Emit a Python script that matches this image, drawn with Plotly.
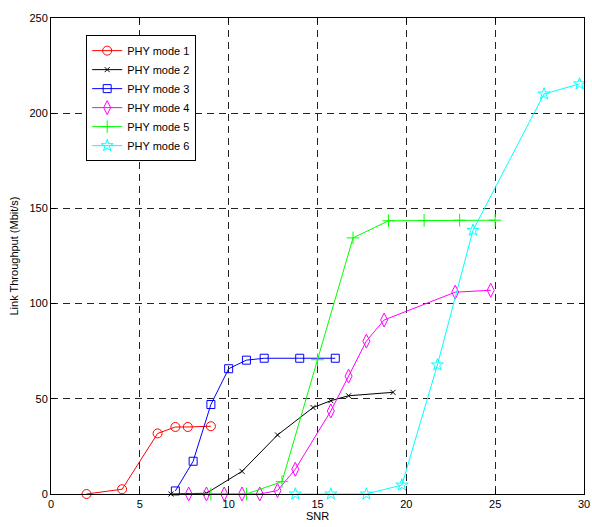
import plotly.graph_objects as go

# ---- data ----
snr_m1 = [2, 4, 6, 7, 7.7, 9]
thr_m1 = [0, 2.5, 31.8, 35.2, 35.2, 35.6]

snr_m2 = [6.75, 8.75, 10.75, 12.75, 14.75, 15.75, 16.75, 19.25]
thr_m2 = [0, 0.4, 11.9, 31.0, 45.4, 49.0, 51.6, 53.4]

snr_m3 = [7, 8, 9, 10, 11, 12, 14, 16]
thr_m3 = [1.6, 17.2, 47.0, 65.8, 70.3, 71.3, 71.3, 71.3]

snr_m4 = [7.75, 8.75, 9.75, 10.75, 11.75, 12.75, 13.75, 15.75, 16.75, 17.75, 18.75, 22.75, 24.75]
thr_m4 = [0, 0, 0, 0, 0, 1.8, 13.0, 43.6, 61.9, 80.3, 91.4, 106.0, 107.0]

snr_m5 = [9, 11, 13, 15, 17, 19, 21, 23, 25]
thr_m5 = [0, 0, 6.5, 70.5, 134.5, 143.5, 143.7, 143.8, 143.8]

snr_m6 = [13.75, 15.75, 17.75, 19.75, 21.75, 23.75, 27.75, 29.75]
thr_m6 = [0, 0, 0, 4.7, 67.8, 138.5, 210.1, 215.4]

series_names = ["PHY mode 1", "PHY mode 2", "PHY mode 3", "PHY mode 4", "PHY mode 5", "PHY mode 6"]
x_ticks = [0, 5, 10, 15, 20, 25, 30]
y_ticks = [0, 50, 100, 150, 200, 250]

styles = [
    ("#FF0000", "circle-open", 9),
    ("#000000", "x-thin-open", 5),
    ("#0000FF", "square-open", 8),
    ("#FF00FF", "diamond-tall-open", 10),
    ("#00FF00", "cross-thin-open", 9),
    ("#00FFFF", "star-open", 9),
]

xs = [snr_m1, snr_m2, snr_m3, snr_m4, snr_m5, snr_m6]
ys = [thr_m1, thr_m2, thr_m3, thr_m4, thr_m5, thr_m6]

fig = go.Figure()
for name, x, y, (c, sym, sz) in zip(series_names, xs, ys, styles):
    fig.add_trace(go.Scatter(
        x=x, y=y, name=name, mode="lines+markers",
        line=dict(color=c, width=1),
        marker=dict(symbol=sym, size=sz, color=c, line=dict(color=c, width=1)),
        cliponaxis=False,
    ))

font_family = "Liberation Sans, Arial, Helvetica, sans-serif"
fig.update_layout(
    width=592, height=527,
    margin=dict(l=51, r=8, t=18, b=33),
    paper_bgcolor="white", plot_bgcolor="white",
    font=dict(family=font_family, size=11, color="black"),
    showlegend=True,
    legend=dict(
        x=0.066, y=0.964, xanchor="left", yanchor="top",
        bgcolor="white", bordercolor="black", borderwidth=1,
        font=dict(size=11, family=font_family),
        tracegroupgap=0, itemwidth=30,
    ),
)
fig.update_xaxes(
    range=[0, 30], tickvals=x_ticks, ticktext=[str(v) for v in x_ticks],
    automargin=False, ticklabeloverflow="allow",
    showline=True, linecolor="black", linewidth=1, mirror="ticks",
    ticks="inside", ticklen=5, tickcolor="black",
    showgrid=True, gridcolor="#222222", gridwidth=1, griddash="7px,5px",
    zeroline=False,
    title=dict(text="SNR", standoff=2, font=dict(size=11)),
)
fig.update_yaxes(
    range=[0, 250], tickvals=y_ticks, ticktext=[str(v) for v in y_ticks],
    automargin=False, ticklabeloverflow="allow",
    showline=True, linecolor="black", linewidth=1, mirror="ticks",
    ticks="inside", ticklen=5, tickcolor="black",
    showgrid=True, gridcolor="#222222", gridwidth=1, griddash="7px,5px",
    zeroline=False,
    title=dict(text="Link Throughput (Mbit/s)", standoff=8, font=dict(size=11)),
)

fig.write_html(
    "out.html",
    config={"displayModeBar": False},
    post_script="document.body.style.margin='0px';document.body.style.overflow='hidden';",
)
